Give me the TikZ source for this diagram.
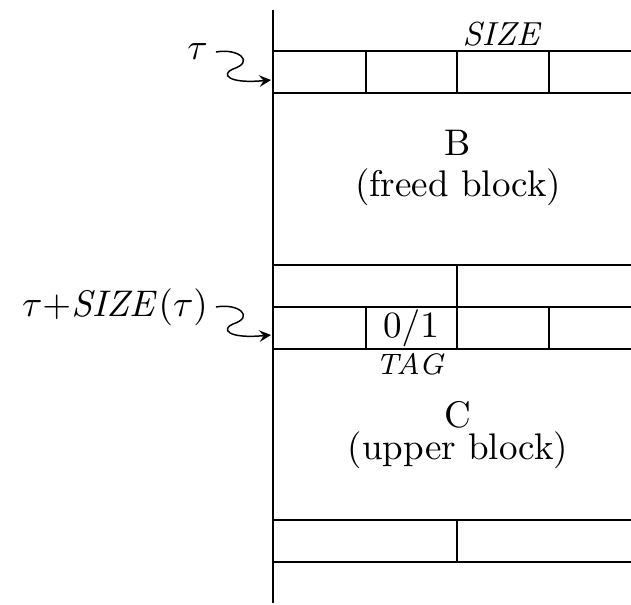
\documentclass[tikz,border=0pt]{standalone}
\usepackage{amsmath}
\usepackage{tikz}
\usetikzlibrary{arrows,positioning,calc}

\begin{document}
\begin{tikzpicture}[x=0.27pt, y=-0.27pt, >=stealth]
        \useasboundingbox (0,0) rectangle (631,605);

        % Memory column
        \draw (273,10) -- (273,603);
        \foreach \y in {51, 93, 265, 307, 349, 520, 562} {
            \draw (273,\y) -- (631,\y);
        }

        % Word fields of B and C
        \foreach \x in {366, 457, 549} {
            \draw (\x,51) -- (\x,93);
            \draw (\x,307) -- (\x,349);
        }
        \draw (457,265) -- (457,307);
        \draw (457,520) -- (457,562);

        % Field labels
        \node[font=\small] (sizelbl) at (503,34) {$\mathit{SIZE}$};
        \node (taglbl) at (411,328) {$0/1$};
        \node[font=\footnotesize] (tagname) at (411,364) {$\mathit{TAG}$};

        % Block names
        \node (bname) at (458,143) {B};
        \node (bnote) at (458,187) {(freed block)};
        \node (cname) at (458,415) {C};
        \node (cnote) at (458,450) {(upper block)};

        % Pointers into the column
        \node[anchor=east, inner sep=2pt] (tau) at (216,52) {$\tau$};
        \coordinate (tauin) at (271,80);
        \draw[->] (tau.east) .. controls +(23,-4) and +(22,-7) .. ++(17,17)
            .. controls +(-12,5) and +(-44,4) .. (tauin);

        \node[anchor=east, inner sep=2pt] (taunext) at (216,307) {$\tau{+}\mathit{SIZE}(\tau)$};
        \coordinate (nextin) at (271,335);
        \draw[->] (taunext.east) .. controls +(23,-4) and +(22,-7) .. ++(17,17)
            .. controls +(-12,5) and +(-44,4) .. (nextin);
    \end{tikzpicture}
\end{document}
